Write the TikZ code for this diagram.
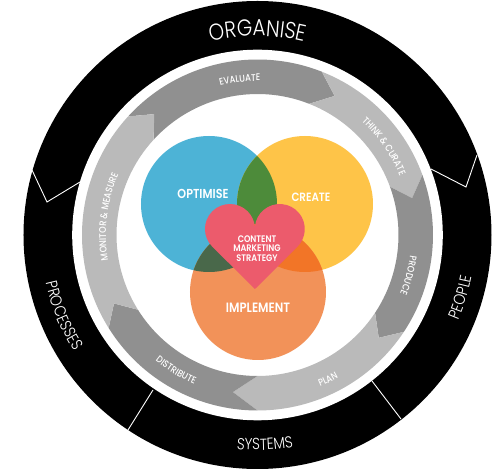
\documentclass[tikz,border=0pt]{standalone}
\usepackage{fontspec}
\usetikzlibrary{decorations.text}
\newfontfamily\thinfont[FakeStretch=0.86]{Poppins Light}
\newfontfamily\midfont[FakeStretch=0.86]{Poppins Medium}
\newfontfamily\boldfont[FakeStretch=0.86]{Poppins SemiBold}
\definecolor{ringdark}{HTML}{909090}
\definecolor{ringlight}{HTML}{BABABA}
\definecolor{optblue}{HTML}{4DB3D6}
\definecolor{createyellow}{HTML}{FEC448}
\definecolor{implorange}{HTML}{F29259}
\definecolor{lensgreen}{HTML}{4D8B3A}
\definecolor{lensdark}{HTML}{49684A}
\definecolor{lensorange}{HTML}{F27527}
\definecolor{heartred}{HTML}{EC5B6C}
\tikzset{
    darkseg/.style={fill=ringdark},
    lightseg/.style={fill=ringlight},
    divider/.style={draw=white, line width=0.9pt},
    circlelabel/.style={text=white, font=\boldfont\fontsize{#1}{#1}\selectfont, inner sep=0pt},
    arclabel/.style={decorate, decoration={text along path, text align=center, text={#1}}}
}
\begin{document}
\begin{tikzpicture}[x=1pt, y=1pt]
    \useasboundingbox (-257.5,-241) rectangle (246.5,235);
    \fill[white] (-257.5,-241) rectangle (246.5,235);

    % Outer band
    \fill[black] (0,0) circle (234);
    \fill[white] (0,0) circle (185.3);
    \draw[divider] (-225.5,65) -- (-210.5,33) -- (-177.5,53);
    \draw[divider] (219.5,80) -- (208.5,48) -- (173.5,66);
    \draw[divider] (-129.5,-195) -- (-104.5,-155);
    \draw[divider] (114.5,-146) -- (143.5,-184);

    % Outer band labels
    \path[arclabel={|\thinfont\fontsize{23}{23}\selectfont\color{white}|ORGANISE}] (170:199) arc (170:10:199);
    \path[arclabel={|\thinfont\fontsize{16}{16}\selectfont\color{white}|PROCESSES}] (157.5:217) arc (157.5:247.5:217);
    \path[arclabel={|\thinfont\fontsize{16}{16}\selectfont\color{white}|SYSTEMS}] (-133:215) arc (-133:-43:215);
    \path[arclabel={|\thinfont\fontsize{16}{16}\selectfont\color{white}|PEOPLE}] (-62:218) arc (-62:28:218);

    % Cycle arrows
    \fill[darkseg] (137.5:175.5) arc (137.5:68.5:175.5) -- (61:159) -- (68.5:141) arc (68.5:137.5:141) -- (130.5:159) -- cycle;
    \fill[lightseg] (68.5:175.5) arc (68.5:20:175.5) -- (13.4:159) -- (20:141) arc (20:68.5:141) -- (61:159) -- cycle;
    \fill[darkseg] (20:175.5) arc (20:-33.5:175.5) -- (-40.3:159) -- (-33.5:141) arc (-33.5:20:141) -- (13.4:159) -- cycle;
    \fill[lightseg] (-33.5:175.5) arc (-33.5:-90:175.5) -- (-98.9:159) -- (-90:141) arc (-90:-33.5:141) -- (-40.3:159) -- cycle;
    \fill[darkseg] (-90:175.5) arc (-90:-148:175.5) -- (-154.5:159) -- (-148:141) arc (-148:-90:141) -- (-98.9:159) -- cycle;
    \fill[lightseg] (-148:175.5) arc (-148:-222.5:175.5) -- (130.5:159) -- (137.5:141) arc (137.5:212:141) -- (-154.5:159) -- cycle;

    % Cycle labels
    \path[arclabel={|\midfont\fontsize{9.7}{9.7}\selectfont\color{white}|EVALUATE}] (141.5:154) arc (141.5:51.5:154);
    \path[arclabel={|\midfont\fontsize{9.7}{9.7}\selectfont\color{white}|THINK {\&} CURATE}] (80:154) arc (80:-10:154);
    \path[arclabel={|\midfont\fontsize{9.7}{9.7}\selectfont\color{white}|PRODUCE}] (30:154) arc (30:-60:154);
    \path[arclabel={|\midfont\fontsize{9.7}{9.7}\selectfont\color{white}|PLAN}] (-109:164) arc (-109:-19:164);
    \path[arclabel={|\midfont\fontsize{9.7}{9.7}\selectfont\color{white}|DISTRIBUTE}] (194:162) arc (194:284:162);
    \path[arclabel={|\midfont\fontsize{9.7}{9.7}\selectfont\color{white}|MONITOR {\&} MEASURE}] (218:151.5) arc (218:128:151.5);

    % Three circles
    \fill[optblue] (-48.5,31) circle (68);
    \fill[createyellow] (47.5,31) circle (68);
    \fill[implorange] (0.5,-57) circle (68);
    \begin{scope}
        \clip (-48.5,31) circle (68);
        \fill[lensgreen] (47.5,31) circle (68);
        \fill[lensdark] (0.5,-57) circle (68);
    \end{scope}
    \begin{scope}
        \clip (47.5,31) circle (68);
        \fill[lensorange] (0.5,-57) circle (68);
    \end{scope}

    % Heart
    \fill[heartred] (-2.5,-54) -- (-45.2,-11.7) arc (225:5:25) arc (175:-45:25) -- cycle;

    \node[circlelabel=13] (optimise) at (-54.5,41) {OPTIMISE};
    \node[circlelabel=12] (create) at (53.5,38) {CREATE};
    \node[circlelabel=13.5] (implement) at (0.5,-73) {IMPLEMENT};
    \node[circlelabel=9.5] (content) at (-0.5,-4) {CONTENT};
    \node[circlelabel=9.5] (marketing) at (-0.5,-13.5) {MARKETING};
    \node[circlelabel=9.5] (strategy) at (-0.5,-23) {STRATEGY};
\end{tikzpicture}
\end{document}
